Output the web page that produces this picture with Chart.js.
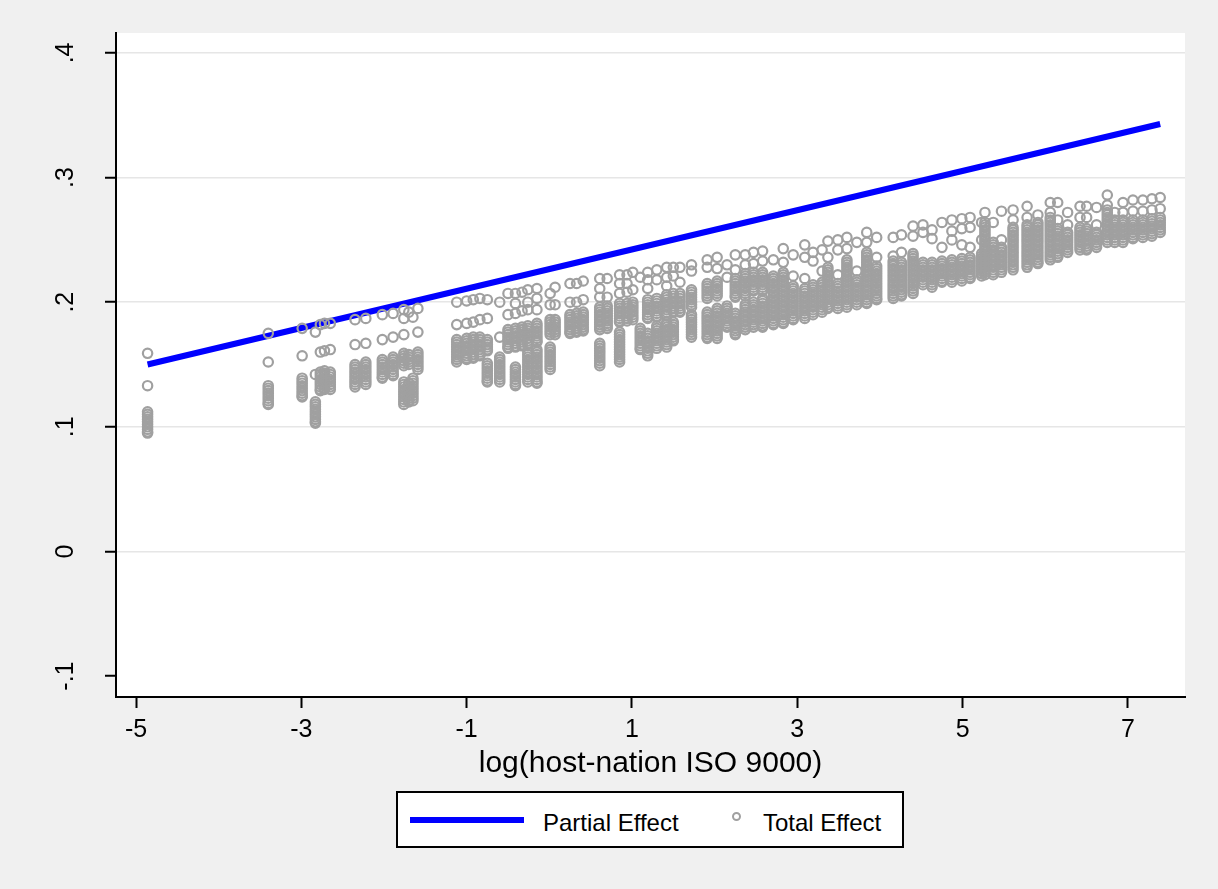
<!DOCTYPE html>
<html lang="en">
<head>
<meta charset="UTF-8">
<title>Partial and total effect</title>
<script src="https://cdn.jsdelivr.net/npm/chart.js@4.4.1/dist/chart.umd.min.js"></script>
<style>
    body { margin: 0; background: #f0f0f0; font-family: "Liberation Sans", Arial, sans-serif; }
    .wrap { position: relative; width: 1218px; height: 889px; background: #f0f0f0; }
    .legend { position: absolute; left: 396px; top: 791px; width: 508px; height: 57px; box-sizing: border-box;
              border: 2px solid #000; background: #fff; }
    .legend .ln { position: absolute; left: 12px; top: 24px; width: 114px; height: 6px; background: #0000ff; }
    .legend .dot { position: absolute; left: 334px; top: 19px; width: 5px; height: 5px; border: 2px solid #a0a0a0; border-radius: 50%; }
    .legend span { position: absolute; top: 18px; font-size: 24px; line-height: 24px; color: #000; white-space: nowrap; }
</style>
</head>
<body>
<div class="wrap">
    <canvas id="myChart" width="1218" height="889"></canvas>
    <div class="legend">
        <div class="ln"></div><span style="left:145px">Partial Effect</span>
        <div class="dot"></div><span style="left:365px">Total Effect</span>
    </div>
</div>
<script>
    // fitted line (partial effect)
    const partialX = [-4.86, 7.39];
    const partialY = [0.150, 0.343];

    // total effect: one entry per x position, with the y values stacked at it
    const totalX = [-4.86, -3.40, -2.99, -2.83, -2.77, -2.72, -2.65, -2.35, -2.22, -2.02, -1.89, -1.76, -1.70, -1.65, -1.59,
        -1.12, -1.00, -0.92, -0.84, -0.75, -0.60, -0.50, -0.41, -0.33, -0.26, -0.15, 0.01, 0.07, 0.25, 0.33, 0.41,
        0.61, 0.70, 0.85, 0.94, 1.01, 1.10, 1.19, 1.30, 1.42, 1.50, 1.58, 1.72, 1.91, 2.03, 2.15, 2.25, 2.37, 2.47, 2.58,
        2.71, 2.83, 2.95, 3.09, 3.19, 3.30, 3.37, 3.49, 3.60, 3.72, 3.84, 3.96, 4.16, 4.26, 4.40, 4.52, 4.63, 4.75, 4.87, 4.99, 5.09, 5.23,
        5.27, 5.37, 5.47, 5.61, 5.78, 5.91, 6.06, 6.15, 6.27, 6.42, 6.50, 6.62, 6.75, 6.84, 6.94, 7.06, 7.18, 7.29, 7.39];
    const totalY = [
        [0.159, 0.133, 0.112, 0.110, 0.108, 0.106, 0.104, 0.102, 0.100, 0.098, 0.096, 0.095],
        [0.175, 0.152, 0.133, 0.131, 0.129, 0.127, 0.125, 0.123, 0.121, 0.119, 0.118],
        [0.179, 0.157, 0.139, 0.137, 0.135, 0.133, 0.131, 0.129, 0.127, 0.125, 0.124],
        [0.176, 0.142, 0.120, 0.118, 0.116, 0.114, 0.112, 0.110, 0.108, 0.106, 0.104, 0.103],
        [0.182, 0.160, 0.144, 0.142, 0.140, 0.138, 0.136, 0.134, 0.132, 0.130, 0.129],
        [0.183, 0.161, 0.145, 0.143, 0.141, 0.139, 0.137, 0.135, 0.133, 0.131, 0.130],
        [0.183, 0.162, 0.144, 0.142, 0.140, 0.138, 0.136, 0.134, 0.132, 0.130],
        [0.186, 0.166, 0.150, 0.148, 0.146, 0.144, 0.142, 0.140, 0.138, 0.136, 0.134, 0.132],
        [0.187, 0.167, 0.152, 0.150, 0.148, 0.146, 0.144, 0.142, 0.140, 0.138, 0.136, 0.134],
        [0.190, 0.170, 0.154, 0.152, 0.150, 0.148, 0.146, 0.144, 0.142, 0.140, 0.139],
        [0.191, 0.172, 0.156, 0.154, 0.152, 0.150, 0.148, 0.146, 0.144, 0.142, 0.141],
        [0.194, 0.187, 0.174, 0.159, 0.157, 0.155, 0.153, 0.151, 0.149, 0.136, 0.134, 0.132, 0.130, 0.128, 0.126, 0.124, 0.122, 0.120, 0.118],
        [0.192, 0.158, 0.156, 0.154, 0.152, 0.150, 0.135, 0.133, 0.131, 0.129, 0.127, 0.125, 0.123, 0.121, 0.120],
        [0.188, 0.139, 0.137, 0.135, 0.133, 0.131, 0.129, 0.127, 0.125, 0.123, 0.121],
        [0.195, 0.176, 0.160, 0.158, 0.156, 0.154, 0.152, 0.150, 0.148, 0.146],
        [0.200, 0.182, 0.170, 0.168, 0.166, 0.164, 0.162, 0.160, 0.158, 0.156, 0.154, 0.152],
        [0.201, 0.183, 0.171, 0.169, 0.167, 0.165, 0.163, 0.161, 0.159, 0.157, 0.155, 0.154],
        [0.202, 0.184, 0.172, 0.170, 0.168, 0.166, 0.164, 0.162, 0.160, 0.158, 0.156, 0.155],
        [0.203, 0.186, 0.172, 0.170, 0.168, 0.166, 0.164, 0.162, 0.160, 0.158, 0.157],
        [0.202, 0.187, 0.170, 0.168, 0.166, 0.164, 0.162, 0.161, 0.151, 0.149, 0.147, 0.145, 0.143, 0.141, 0.139, 0.137, 0.136],
        [0.200, 0.172, 0.156, 0.154, 0.152, 0.150, 0.148, 0.146, 0.144, 0.142, 0.140, 0.138, 0.136],
        [0.207, 0.190, 0.178, 0.176, 0.174, 0.172, 0.170, 0.168, 0.166, 0.164, 0.163],
        [0.207, 0.199, 0.191, 0.179, 0.177, 0.175, 0.173, 0.171, 0.169, 0.167, 0.165, 0.164, 0.148, 0.146, 0.144, 0.142, 0.140, 0.138, 0.136, 0.134, 0.133],
        [0.208, 0.193, 0.180, 0.178, 0.176, 0.174, 0.172, 0.170, 0.168, 0.166, 0.165],
        [0.210, 0.200, 0.194, 0.181, 0.179, 0.177, 0.175, 0.173, 0.171, 0.169, 0.167, 0.166, 0.160, 0.158, 0.156, 0.154, 0.152, 0.150, 0.148, 0.146, 0.144, 0.142, 0.140, 0.138, 0.136],
        [0.211, 0.203, 0.194, 0.183, 0.181, 0.179, 0.177, 0.175, 0.173, 0.171, 0.169, 0.168, 0.162, 0.160, 0.158, 0.156, 0.154, 0.152, 0.150, 0.148, 0.146, 0.144, 0.142, 0.140, 0.138, 0.136, 0.135],
        [0.207, 0.198, 0.186, 0.184, 0.182, 0.180, 0.178, 0.176, 0.174, 0.164, 0.162, 0.160, 0.158, 0.156, 0.154, 0.152, 0.150, 0.148, 0.146],
        [0.212, 0.198, 0.186, 0.184, 0.182, 0.180, 0.178, 0.176, 0.174],
        [0.215, 0.200, 0.190, 0.188, 0.186, 0.184, 0.182, 0.180, 0.178, 0.176, 0.175],
        [0.215, 0.200, 0.191, 0.189, 0.187, 0.185, 0.183, 0.181, 0.179, 0.177, 0.176],
        [0.217, 0.202, 0.192, 0.190, 0.188, 0.186, 0.184, 0.182, 0.180, 0.178, 0.177],
        [0.219, 0.211, 0.204, 0.196, 0.194, 0.192, 0.190, 0.188, 0.186, 0.184, 0.182, 0.180, 0.178, 0.167, 0.165, 0.163, 0.161, 0.159, 0.157, 0.155, 0.153, 0.151, 0.149],
        [0.219, 0.204, 0.197, 0.195, 0.193, 0.191, 0.189, 0.187, 0.185, 0.183, 0.181, 0.179],
        [0.222, 0.215, 0.207, 0.199, 0.197, 0.195, 0.193, 0.191, 0.189, 0.187, 0.185, 0.184, 0.176, 0.174, 0.172, 0.170, 0.168, 0.166, 0.164, 0.162, 0.160, 0.158, 0.156, 0.154, 0.152],
        [0.222, 0.215, 0.208, 0.199, 0.197, 0.195, 0.193, 0.191, 0.189, 0.187, 0.185],
        [0.224, 0.210, 0.200, 0.198, 0.196, 0.194, 0.192, 0.190, 0.188, 0.186],
        [0.220, 0.179, 0.177, 0.175, 0.173, 0.171, 0.169, 0.167, 0.165, 0.163, 0.162],
        [0.224, 0.218, 0.211, 0.202, 0.200, 0.198, 0.196, 0.194, 0.192, 0.190, 0.188, 0.187, 0.175, 0.173, 0.171, 0.169, 0.167, 0.165, 0.163, 0.161, 0.159, 0.157],
        [0.226, 0.218, 0.203, 0.201, 0.199, 0.197, 0.195, 0.193, 0.191, 0.189, 0.188, 0.181, 0.179, 0.177, 0.175, 0.173, 0.171, 0.169, 0.167, 0.165, 0.163],
        [0.228, 0.220, 0.213, 0.206, 0.204, 0.202, 0.200, 0.198, 0.196, 0.194, 0.192, 0.190, 0.189, 0.184, 0.182, 0.180, 0.178, 0.176, 0.174, 0.172, 0.170, 0.168, 0.166, 0.164],
        [0.228, 0.221, 0.207, 0.205, 0.203, 0.201, 0.199, 0.197, 0.195, 0.193, 0.192, 0.184, 0.182, 0.180, 0.178, 0.176, 0.174, 0.172, 0.170, 0.169],
        [0.228, 0.216, 0.207, 0.205, 0.203, 0.201, 0.199, 0.197, 0.195, 0.193, 0.192],
        [0.230, 0.225, 0.210, 0.208, 0.206, 0.204, 0.202, 0.200, 0.198, 0.196, 0.190, 0.188, 0.186, 0.184, 0.182, 0.180, 0.178, 0.176, 0.174, 0.172],
        [0.234, 0.228, 0.215, 0.213, 0.211, 0.209, 0.207, 0.205, 0.203, 0.192, 0.190, 0.188, 0.186, 0.184, 0.182, 0.180, 0.178, 0.176, 0.174, 0.172, 0.171],
        [0.236, 0.227, 0.217, 0.215, 0.213, 0.211, 0.209, 0.207, 0.205, 0.195, 0.193, 0.191, 0.189, 0.187, 0.185, 0.183, 0.181, 0.179, 0.177, 0.175, 0.173, 0.171],
        [0.230, 0.220, 0.197, 0.195, 0.193, 0.191, 0.189, 0.187, 0.185, 0.183, 0.181, 0.180],
        [0.238, 0.226, 0.219, 0.217, 0.215, 0.213, 0.211, 0.209, 0.207, 0.205, 0.204, 0.191, 0.189, 0.187, 0.185, 0.183, 0.181, 0.179, 0.177, 0.175, 0.174],
        [0.238, 0.230, 0.223, 0.221, 0.219, 0.217, 0.215, 0.213, 0.211, 0.209, 0.207, 0.205, 0.198, 0.196, 0.194, 0.192, 0.190, 0.188, 0.186, 0.184, 0.182, 0.180, 0.178],
        [0.240, 0.231, 0.224, 0.222, 0.220, 0.218, 0.216, 0.214, 0.212, 0.210, 0.209, 0.200, 0.198, 0.196, 0.194, 0.192, 0.190, 0.188, 0.186, 0.184, 0.182, 0.180],
        [0.241, 0.233, 0.224, 0.222, 0.220, 0.218, 0.216, 0.214, 0.212, 0.210, 0.209, 0.203, 0.201, 0.199, 0.197, 0.195, 0.193, 0.191, 0.189, 0.187, 0.185, 0.183, 0.181, 0.180],
        [0.234, 0.221, 0.219, 0.217, 0.215, 0.213, 0.211, 0.209, 0.207, 0.205, 0.203, 0.201, 0.199, 0.197, 0.195, 0.193, 0.191, 0.189, 0.187, 0.185, 0.183, 0.182],
        [0.243, 0.232, 0.224, 0.222, 0.220, 0.218, 0.216, 0.214, 0.212, 0.210, 0.208, 0.206, 0.204, 0.202, 0.200, 0.198, 0.196, 0.194, 0.192, 0.190, 0.188, 0.186, 0.184, 0.183],
        [0.238, 0.221, 0.213, 0.211, 0.209, 0.207, 0.205, 0.203, 0.201, 0.199, 0.197, 0.195, 0.193, 0.191, 0.189, 0.187, 0.186],
        [0.246, 0.236, 0.219, 0.211, 0.209, 0.207, 0.205, 0.203, 0.201, 0.199, 0.197, 0.195, 0.193, 0.191, 0.189, 0.187],
        [0.240, 0.233, 0.214, 0.212, 0.210, 0.208, 0.206, 0.204, 0.202, 0.200, 0.198, 0.196, 0.194, 0.192, 0.190],
        [0.242, 0.225, 0.216, 0.214, 0.212, 0.210, 0.208, 0.206, 0.204, 0.202, 0.200, 0.198, 0.196, 0.194, 0.192],
        [0.249, 0.236, 0.228, 0.226, 0.224, 0.222, 0.220, 0.218, 0.216, 0.214, 0.212, 0.210, 0.208, 0.206, 0.204, 0.202, 0.200, 0.198, 0.196, 0.195],
        [0.250, 0.242, 0.222, 0.215, 0.213, 0.211, 0.209, 0.207, 0.205, 0.203, 0.201, 0.199, 0.197, 0.195],
        [0.252, 0.243, 0.234, 0.232, 0.230, 0.228, 0.226, 0.224, 0.222, 0.220, 0.218, 0.216, 0.214, 0.212, 0.210, 0.208, 0.206, 0.204, 0.202, 0.200, 0.198, 0.196],
        [0.248, 0.225, 0.218, 0.216, 0.214, 0.212, 0.210, 0.208, 0.206, 0.204, 0.202, 0.200, 0.198],
        [0.256, 0.248, 0.240, 0.238, 0.236, 0.234, 0.232, 0.230, 0.228, 0.226, 0.224, 0.222, 0.220, 0.218, 0.216, 0.214, 0.212, 0.210, 0.208, 0.206, 0.204, 0.202, 0.200, 0.199],
        [0.252, 0.236, 0.229, 0.227, 0.225, 0.223, 0.221, 0.219, 0.217, 0.215, 0.213, 0.211, 0.209, 0.207, 0.205, 0.203, 0.202],
        [0.252, 0.237, 0.233, 0.231, 0.229, 0.227, 0.225, 0.223, 0.221, 0.219, 0.217, 0.215, 0.213, 0.211, 0.209, 0.207, 0.205, 0.203],
        [0.254, 0.240, 0.232, 0.230, 0.228, 0.226, 0.224, 0.222, 0.220, 0.218, 0.216, 0.214, 0.212, 0.210, 0.208, 0.206, 0.205],
        [0.261, 0.253, 0.239, 0.237, 0.235, 0.233, 0.231, 0.229, 0.227, 0.225, 0.223, 0.221, 0.219, 0.217, 0.215, 0.213, 0.211, 0.209, 0.207],
        [0.262, 0.256, 0.232, 0.230, 0.228, 0.226, 0.224, 0.222, 0.220, 0.218, 0.216, 0.214],
        [0.258, 0.251, 0.232, 0.230, 0.228, 0.226, 0.224, 0.222, 0.220, 0.218, 0.216, 0.214, 0.212],
        [0.264, 0.244, 0.233, 0.231, 0.229, 0.227, 0.225, 0.223, 0.221, 0.219, 0.217, 0.216],
        [0.266, 0.257, 0.250, 0.234, 0.232, 0.230, 0.228, 0.226, 0.224, 0.222, 0.220, 0.218, 0.216],
        [0.267, 0.259, 0.246, 0.235, 0.233, 0.231, 0.229, 0.227, 0.225, 0.223, 0.221, 0.219, 0.217],
        [0.268, 0.260, 0.244, 0.236, 0.234, 0.232, 0.230, 0.228, 0.226, 0.224, 0.222, 0.220, 0.219],
        [0.264, 0.250, 0.239, 0.237, 0.235, 0.233, 0.231, 0.229, 0.227, 0.225, 0.223, 0.221],
        [0.272, 0.264, 0.262, 0.260, 0.258, 0.256, 0.254, 0.252, 0.250, 0.248, 0.246, 0.244, 0.242, 0.240, 0.238, 0.236, 0.234, 0.232, 0.230, 0.228, 0.226, 0.224, 0.222],
        [0.264, 0.248, 0.246, 0.244, 0.242, 0.240, 0.238, 0.236, 0.234, 0.232, 0.230, 0.228, 0.226, 0.224, 0.222],
        [0.273, 0.250, 0.244, 0.242, 0.240, 0.238, 0.236, 0.234, 0.232, 0.230, 0.228, 0.226, 0.224],
        [0.274, 0.266, 0.260, 0.258, 0.256, 0.254, 0.252, 0.250, 0.248, 0.246, 0.244, 0.242, 0.240, 0.238, 0.236, 0.234, 0.232, 0.230, 0.228, 0.226],
        [0.277, 0.268, 0.262, 0.260, 0.258, 0.256, 0.254, 0.252, 0.250, 0.248, 0.246, 0.244, 0.242, 0.240, 0.238, 0.236, 0.234, 0.232, 0.230, 0.228],
        [0.270, 0.264, 0.262, 0.260, 0.258, 0.256, 0.254, 0.252, 0.250, 0.248, 0.246, 0.244, 0.242, 0.240, 0.238, 0.236, 0.234, 0.232, 0.231],
        [0.280, 0.272, 0.268, 0.266, 0.264, 0.262, 0.260, 0.258, 0.256, 0.254, 0.252, 0.250, 0.248, 0.246, 0.244, 0.242, 0.240, 0.238, 0.236, 0.234],
        [0.280, 0.266, 0.259, 0.257, 0.255, 0.253, 0.251, 0.249, 0.247, 0.245, 0.243, 0.241, 0.239, 0.237, 0.236],
        [0.272, 0.262, 0.256, 0.254, 0.252, 0.250, 0.248, 0.246, 0.244, 0.242, 0.240],
        [0.277, 0.268, 0.260, 0.258, 0.256, 0.254, 0.252, 0.250, 0.248, 0.246, 0.244, 0.242],
        [0.277, 0.268, 0.259, 0.257, 0.255, 0.253, 0.251, 0.249, 0.247, 0.245, 0.243, 0.242],
        [0.276, 0.262, 0.256, 0.254, 0.252, 0.250, 0.248, 0.246, 0.244],
        [0.286, 0.278, 0.274, 0.272, 0.270, 0.268, 0.266, 0.264, 0.262, 0.260, 0.258, 0.256, 0.254, 0.252, 0.250, 0.248],
        [0.272, 0.266, 0.264, 0.262, 0.260, 0.258, 0.256, 0.254, 0.252, 0.250, 0.248],
        [0.280, 0.272, 0.266, 0.264, 0.262, 0.260, 0.258, 0.256, 0.254, 0.252, 0.250, 0.248],
        [0.282, 0.273, 0.266, 0.264, 0.262, 0.260, 0.258, 0.256, 0.254, 0.252, 0.251],
        [0.282, 0.273, 0.266, 0.264, 0.262, 0.260, 0.258, 0.256, 0.254, 0.252],
        [0.283, 0.274, 0.267, 0.265, 0.263, 0.261, 0.259, 0.257, 0.255, 0.253],
        [0.284, 0.275, 0.268, 0.266, 0.264, 0.262, 0.260, 0.258, 0.256]
    ];

    const xTicks = [-5, -3, -1, 1, 3, 5, 7];
    const yTicks = [-0.1, 0, 0.1, 0.2, 0.3, 0.4];
    const yTickLabels = ["-.1", "0", ".1", ".2", ".3", ".4"];

    const totalPoints = [];
    totalX.forEach((x, i) => totalY[i].forEach(y => totalPoints.push({x: x, y: y})));
    const partialPoints = partialX.map((x, i) => ({x: x, y: partialY[i]}));

    const FONT = '"Liberation Sans", Arial, sans-serif';

    // white plot region + vertical y labels like Stata
    const stataLook = {
        id: 'stataLook',
        beforeDraw(chart) {
            const a = chart.chartArea, ctx = chart.ctx;
            ctx.save();
            ctx.fillStyle = '#ffffff';
            ctx.fillRect(a.left, a.top, a.right - a.left, a.bottom - a.top);
            ctx.restore();
        },
        afterDraw(chart) {
            const ctx = chart.ctx, ys = chart.scales.y;
            ctx.save();
            ctx.font = '25px ' + FONT;
            ctx.fillStyle = '#000';
            ctx.textAlign = 'center';
            ctx.textBaseline = 'alphabetic';
            yTicks.forEach((v, i) => {
                const py = ys.getPixelForValue(v);
                ctx.save();
                ctx.translate(73, py);
                ctx.rotate(-Math.PI / 2);
                ctx.fillText(yTickLabels[i], 0, 0);
                ctx.restore();
            });
            ctx.restore();
        }
    };

    new Chart("myChart", {
        type: "scatter",
        data: {
            datasets: [{
                label: "Total Effect",
                data: totalPoints,
                pointStyle: 'circle',
                pointRadius: 4.7,
                pointBorderWidth: 2.2,
                borderColor: '#a0a0a0',
                backgroundColor: 'rgba(0,0,0,0)',
                order: 0
            }, {
                label: "Partial Effect",
                data: partialPoints,
                showLine: true,
                pointRadius: 0,
                borderColor: '#0000ff',
                borderWidth: 6,
                order: 1
            }]
        },
        options: {
            responsive: false,
            animation: false,
            devicePixelRatio: 1,
            layout: { padding: { top: 33, right: 33, bottom: 107, left: 0 } },
            plugins: { legend: { display: false }, tooltip: { enabled: false } },
            scales: {
                x: {
                    type: 'linear',
                    min: -5.242,
                    max: 7.69,
                    afterBuildTicks: s => { s.ticks = xTicks.map(v => ({value: v})); },
                    afterFit: s => { s.height = 85; },
                    border: { color: '#000', width: 2 },
                    grid: { drawOnChartArea: false, drawTicks: true, tickLength: 11, tickColor: '#000', tickWidth: 2 },
                    ticks: { color: '#000', font: { family: FONT, size: 25 }, padding: 7, maxRotation: 0 },
                    title: { display: true, text: 'log(host-nation ISO 9000)', color: '#000',
                             font: { family: FONT, size: 30 }, padding: 0 }
                },
                y: {
                    type: 'linear',
                    min: -0.1168,
                    max: 0.416,
                    afterBuildTicks: s => { s.ticks = yTicks.map(v => ({value: v})); },
                    afterFit: s => { s.width = 116; },
                    border: { color: '#000', width: 2 },
                    grid: {
                        color: c => (c.tick && c.tick.value < -0.05) ? 'rgba(0,0,0,0)' : '#e6e6e6',
                        lineWidth: 1.5,
                        drawTicks: true, tickLength: 11, tickColor: '#000', tickWidth: 2
                    },
                    ticks: { display: false }
                }
            }
        },
        plugins: [stataLook]
    });
</script>
</body>
</html>
